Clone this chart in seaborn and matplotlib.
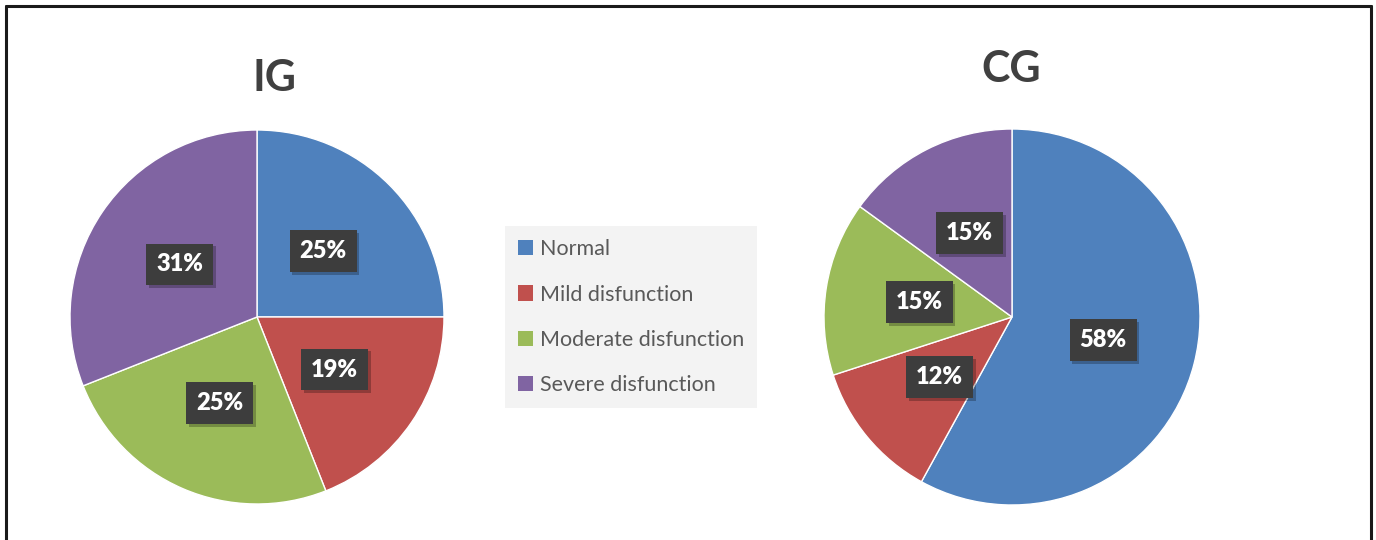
import matplotlib
matplotlib.use("Agg")
import matplotlib.pyplot as plt
import matplotlib.patheffects as pe
from matplotlib.patches import Patch
from matplotlib.lines import Line2D
import seaborn as sns

categories = ["Normal", "Mild disfunction", "Moderate disfunction", "Severe disfunction"]
ig_values = [25, 19, 25, 31]
cg_values = [58, 12, 15, 15]
titles = ["IG", "CG"]

sns.set_theme(style="white")
plt.rcParams["font.family"] = ["Lato", "DejaVu Sans"]

colors = ["#4F81BD", "#C0504D", "#9BBB59", "#8064A2"]

W, H = 1376, 540
fig = plt.figure(figsize=(W / 100, H / 100), dpi=100)
fig.patch.set_facecolor("white")

def add_pie(cx, cy, r, values):
    ax = fig.add_axes([(cx - r) / W, (H - cy - r) / H, 2 * r / W, 2 * r / H])
    wedges, texts, autotexts = ax.pie(
        values, colors=colors, startangle=90, counterclock=False,
        autopct=lambda p: f"{p:.0f}%", pctdistance=0.5,
        wedgeprops=dict(edgecolor="white", linewidth=1.0),
        textprops=dict(color="white", fontsize=17, fontweight="heavy"),
    )
    for t in autotexts:
        t.set_bbox(dict(boxstyle="square,pad=0.42", facecolor="#3d3d3d", edgecolor="none"))
        t.get_bbox_patch().set_path_effects([
            pe.SimplePatchShadow(offset=(2, -2), shadow_rgbFace="#000000", alpha=0.25),
            pe.Normal(),
        ])
    ax.set_xlim(-1.0, 1.0)
    ax.set_ylim(-1.0, 1.0)
    ax.set_aspect("equal")
    ax.axis("off")
    return ax

add_pie(257, 317, 187, ig_values)
add_pie(1012, 317, 188, cg_values)

fig.text(275 / W, 1 - 78 / H, titles[0], ha="center", va="center",
         fontsize=31, fontweight="bold", color="#404040")
fig.text(1011 / W, 1 - 69 / H, titles[1], ha="center", va="center",
         fontsize=31, fontweight="bold", color="#404040")

handles = [Patch(facecolor=c, edgecolor="none") for c in colors]
leg = fig.legend(handles, categories, loc="upper left",
                 bbox_to_anchor=(505 / W, 1 - 226 / H), borderaxespad=0,
                 frameon=True, fancybox=False, facecolor="#f3f3f3", edgecolor="none",
                 fontsize=15.5, labelcolor="#595959",
                 handlelength=0.7, handleheight=0.7, handletextpad=0.3,
                 labelspacing=1.17, borderpad=0.62)
leg.get_frame().set_alpha(1)

# outer border (top, left, right)
for xs, ys in [((6, 1371), (6, 6)), ((6, 6), (6, 540)), ((1371, 1371), (6, 540))]:
    fig.add_artist(Line2D([x / W for x in xs], [1 - y / H for y in ys],
                          color="#1a1a1a", linewidth=2.2, transform=fig.transFigure))

fig.savefig("out.png", dpi=100, facecolor="white")
